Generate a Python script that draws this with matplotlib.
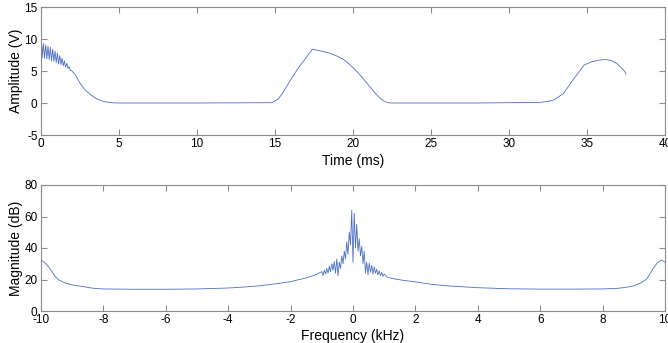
import matplotlib
matplotlib.use("Agg")
import matplotlib.pyplot as plt

plt.rcParams['font.family'] = ['Liberation Sans', 'DejaVu Sans']
plt.rcParams['axes.unicode_minus'] = False

# ---- time-domain signal (ms, V) ----
time_ms = [0.0, 0.075, 0.15, 0.225, 0.30, 0.375, 0.45, 0.525, 0.60, 0.675, 0.75,
           0.825, 0.90, 0.975, 1.05, 1.125, 1.20, 1.275, 1.35, 1.425, 1.50, 1.575,
           1.65, 1.725, 1.80, 1.875, 1.95,
           2.2, 2.5, 2.8, 3.2, 3.6, 4.0, 4.4, 4.8, 10.0, 14.8,
           15.2, 15.5, 16.0, 16.5, 17.0, 17.4, 18.0, 18.5, 19.0, 19.4, 19.8,
           20.3, 20.9, 21.4, 21.8, 22.1, 22.4, 28.0, 32.0,
           32.5, 32.9, 33.5, 34.1, 34.8, 35.3, 35.8, 36.2, 36.6, 36.9, 37.2,
           37.4, 37.5]
amplitude_v = [11.6, 7.1, 9.3, 7.0, 9.1, 6.9, 8.9, 6.8, 8.7, 6.6, 8.4,
               6.5, 8.1, 6.3, 7.8, 6.1, 7.4, 6.0, 7.0, 5.8, 6.6, 5.6,
               6.2, 5.4, 5.7, 5.1, 5.1,
               4.4, 3.1, 2.1, 1.25, 0.6, 0.25, 0.08, 0.0, 0.0, 0.05,
               0.6, 1.6, 3.6, 5.5, 7.1, 8.4, 8.1, 7.8, 7.3, 6.8, 6.0,
               4.8, 3.1, 1.6, 0.6, 0.15, 0.0, 0.0, 0.1,
               0.25, 0.5, 1.5, 3.6, 5.9, 6.45, 6.7, 6.8, 6.6, 6.2, 5.5,
               5.0, 4.5]

# ---- spectrum (kHz, dB) ----
freq_khz = [-10.0, -9.9, -9.82, -9.7, -9.55, -9.44, -9.3, -9.2, -9.0, -8.75,
            -8.5, -8.32, -8.0, -7.0, -6.0, -5.0, -4.0, -3.5, -3.0, -2.5,
            -2.0, -1.8, -1.5, -1.2,
            -1.00, -0.96, -0.92, -0.88, -0.84, -0.80, -0.76, -0.72, -0.68,
            -0.64, -0.60, -0.56, -0.52, -0.48, -0.44, -0.40, -0.36, -0.32,
            -0.28, -0.24, -0.20, -0.16, -0.12, -0.08, -0.04, 0.00, 0.04,
            0.08, 0.12, 0.16, 0.20, 0.24, 0.28, 0.32, 0.36, 0.40, 0.44,
            0.48, 0.52, 0.56, 0.60, 0.64, 0.68, 0.72, 0.76, 0.80, 0.84,
            0.88, 0.92, 0.96, 1.00,
            1.1, 1.3, 1.6, 2.0, 2.5, 3.0, 4.0, 5.0, 6.0, 7.0, 8.0, 8.5,
            8.8, 9.0, 9.2, 9.4, 9.5, 9.62, 9.75, 9.89, 10.0]
magnitude_db = [32.4, 31.0, 29.5, 26.5, 22.0, 19.8, 18.5, 17.6, 16.6, 15.8,
                15.0, 14.4, 14.0, 13.8, 13.8, 14.0, 14.6, 15.2, 16.0, 17.2,
                18.6, 19.6, 21.0, 23.0,
                25.0, 22.5, 26.0, 23.5, 27.0, 24.0, 28.5, 25.0, 30.0,
                26.0, 31.5, 24.0, 33.0, 22.5, 31.0, 27.0, 35.0, 30.0,
                38.0, 33.0, 44.0, 36.0, 50.0, 42.0, 64.0, 31.0, 62.0,
                40.0, 55.0, 38.0, 46.0, 35.0, 41.0, 30.0, 38.0, 24.0, 31.0,
                23.0, 30.5, 24.5, 29.0, 23.5, 28.0, 24.0, 26.5, 23.0, 25.5,
                22.5, 24.5, 22.0, 23.5,
                21.5, 20.5, 19.5, 18.5, 17.0, 16.0, 14.8, 14.1, 13.9, 13.9, 14.0, 14.4,
                15.2, 16.0, 17.6, 20.0, 23.0, 27.1, 30.5, 32.4, 31.0]

time_ticks = [0, 5, 10, 15, 20, 25, 30, 35, 40]
amp_ticks = [-5, 0, 5, 10, 15]
freq_ticks = [-10, -8, -6, -4, -2, 0, 2, 4, 6, 8, 10]
mag_ticks = [0, 20, 40, 60, 80]

line_color = '#4a70c4'
spine_color = '#8c8c8c'

fig = plt.figure(figsize=(6.68, 3.43), dpi=100)
ax1 = fig.add_axes([41/668, 1-135/343, 624/668, 128/343])
ax2 = fig.add_axes([41/668, 1-311/343, 624/668, 126/343])

def style(ax):
    for s in ax.spines.values():
        s.set_color(spine_color)
        s.set_linewidth(0.8)
    ax.tick_params(direction='in', top=True, right=True, length=4, width=0.8,
                   color=spine_color, labelsize=8.5, labelcolor='black', pad=2.5)

ax1.plot(time_ms, amplitude_v, color=line_color, lw=0.6)
ax1.set_xlim(0, 40)
ax1.set_ylim(-5, 15)
ax1.set_xticks(time_ticks)
ax1.set_yticks(amp_ticks)
ax1.set_xlabel('Time (ms)', fontsize=10, labelpad=2.5)
ax1.set_ylabel('Amplitude (V)', fontsize=10, labelpad=1)
style(ax1)

ax2.plot(freq_khz, magnitude_db, color=line_color, lw=0.6)
ax2.set_xlim(-10, 10)
ax2.set_ylim(0, 80)
ax2.set_xticks(freq_ticks)
ax2.set_yticks(mag_ticks)
ax2.set_xlabel('Frequency (kHz)', fontsize=10, labelpad=2)
ax2.set_ylabel('Magnitude (dB)', fontsize=10, labelpad=1)
style(ax2)

fig.savefig('out.png', dpi=100)
